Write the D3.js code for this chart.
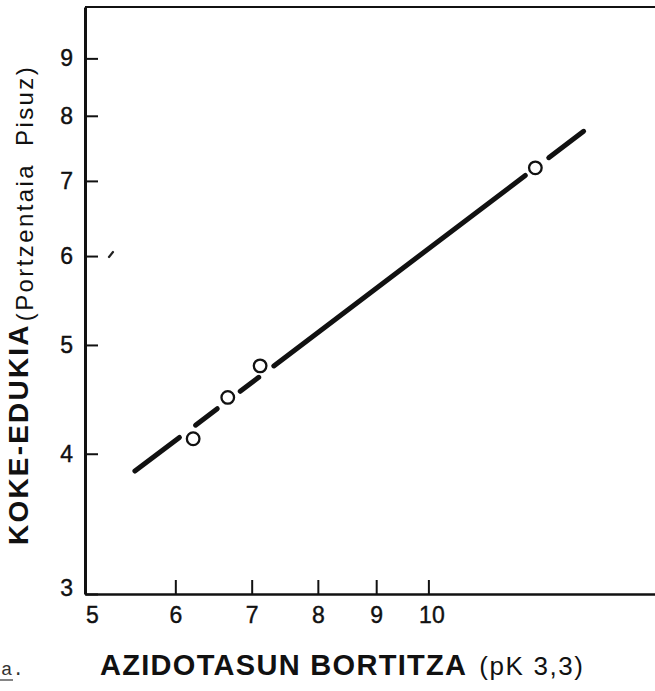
<!DOCTYPE html>
<html>
<head>
<meta charset="utf-8">
<script src="https://cdn.jsdelivr.net/npm/d3@7"></script>
<style>
	body { margin: 0; background: #fff; }
	svg { display: block; }
</style>
</head>
<body>
<div id="chart"></div>
<script>
// acidity strength (x) vs. coke content in weight percent (y), log-log
const xTicks = [5, 6, 7, 8, 9, 10];
const yTicks = [3, 4, 5, 6, 7, 8, 9];

const pointX = [6.22, 6.67, 7.12, 12.41];
const pointY = [4.125, 4.49, 4.79, 7.19];

// fitted line end points
const fitX = [5.53, 13.68];
const fitY = [3.86, 7.75];
// drawn pieces of the fit line (broken around the circles)
const fitPieces = [[5.53, 6.05], [6.25, 6.53], [6.84, 7.10], [7.32, 12.16], [12.75, 13.68]];

(() => {
	const width = 655;
	const height = 691;

	const svg = d3.select('#chart').append('svg')
		.attr('width', width)
		.attr('height', height);

	const x = d3.scaleLog()
		.domain([5, 15.8])
		.range([85, 655]);
	const y = d3.scaleLog()
		.domain([3, 10])
		.range([594, 7]);

	// y on the straight fit line (straight in log-log space)
	const fitAt = (v) => {
		const t = (Math.log10(v) - Math.log10(fitX[0])) / (Math.log10(fitX[1]) - Math.log10(fitX[0]));
		return Math.pow(10, Math.log10(fitY[0]) + t * (Math.log10(fitY[1]) - Math.log10(fitY[0])));
	};

	// axes
	const xAxis = d3.axisBottom(x)
		.tickValues(xTicks)
		.tickFormat(d3.format('d'))
		.tickSize(-14)
		.tickSizeOuter(0)
		.tickPadding(13);
	const yAxis = d3.axisLeft(y)
		.tickValues(yTicks)
		.tickFormat(d3.format('d'))
		.tickSize(-13)
		.tickSizeOuter(0)
		.tickPadding(12);

	const gx = svg.append('g')
		.attr('class', 'x axis')
		.attr('transform', `translate(0, ${y.range()[0]})`)
		.call(xAxis);
	const gy = svg.append('g')
		.attr('class', 'y axis')
		.attr('transform', `translate(${x.range()[0]}, 0)`)
		.call(yAxis);

	svg.selectAll('.axis')
		.attr('font-family', "'Liberation Sans', Arial, sans-serif")
		.attr('font-size', 23);
	svg.selectAll('.tick text')
		.attr('fill', '#111')
		.attr('stroke', '#111')
		.attr('stroke-width', 0.4);

	gx.select('.domain').attr('stroke', '#111').attr('stroke-width', 2.4);
	gy.select('.domain').attr('stroke', '#111').attr('stroke-width', 3);
	svg.selectAll('.tick line').attr('stroke', '#111').attr('stroke-width', 2);
	gx.selectAll('.tick text').filter(d => d === 5).attr('dx', 7);
	gx.selectAll('.tick text').filter(d => d === 10).attr('dx', 3);
	gy.selectAll('.tick text').filter(d => d === 3).attr('dy', '0.05em');

	// top border
	svg.append('line')
		.attr('x1', x.range()[0])
		.attr('x2', x.range()[1])
		.attr('y1', y.range()[1])
		.attr('y2', y.range()[1])
		.attr('stroke', '#111')
		.attr('stroke-width', 2.2);

	// fit line pieces
	svg.selectAll('.fit')
		.data(fitPieces)
		.enter().append('line')
			.attr('class', 'fit')
			.attr('x1', d => x(d[0]))
			.attr('y1', d => y(fitAt(d[0])))
			.attr('x2', d => x(d[1]))
			.attr('y2', d => y(fitAt(d[1])))
			.attr('stroke', '#111')
			.attr('stroke-width', 5)
			.attr('stroke-linecap', 'round');

	// data points
	svg.selectAll('.pt')
		.data(pointX.map((v, i) => ({ x: v, y: pointY[i] })))
		.enter().append('circle')
			.attr('class', 'pt')
			.attr('cx', d => x(d.x))
			.attr('cy', d => y(d.y))
			.attr('r', 6.3)
			.attr('fill', '#fff')
			.attr('stroke', '#111')
			.attr('stroke-width', 2.3);

	// small stray mark left in the original scan
	svg.append('line')
		.attr('x1', 109).attr('y1', 257)
		.attr('x2', 113).attr('y2', 252)
		.attr('stroke', '#222')
		.attr('stroke-width', 2.2)
		.attr('stroke-linecap', 'round');

	// x axis title
	const xt = svg.append('text')
		.attr('x', 100)
		.attr('y', 675)
		.style('font-family', "'Liberation Sans', Arial, sans-serif")
		.style('fill', '#111');
	xt.append('tspan')
		.style('font-weight', 'bold')
		.style('font-size', '29px')
		.style('letter-spacing', '1.3px')
		.text('AZIDOTASUN BORTITZA');
	xt.append('tspan')
		.attr('dx', 12)
		.style('font-size', '26px')
		.style('letter-spacing', '1.6px')
		.text('(pK 3,3)');

	// y axis title
	const yt = svg.append('text')
		.attr('transform', 'translate(28, 545) rotate(-90)')
		.style('font-family', "'Liberation Sans', Arial, sans-serif")
		.style('fill', '#111');
	yt.append('tspan')
		.style('font-weight', 'bold')
		.style('font-size', '28px')
		.style('letter-spacing', '2.2px')
		.text('KOKE-EDUKIA');
	yt.append('tspan')
		.attr('dx', 2)
		.attr('dy', 5)
		.style('font-size', '24px')
		.style('letter-spacing', '2.4px')
		.style('word-spacing', '8px')
		.text('(Portzentaia Pisuz)');

	// panel mark
	svg.append('text')
		.attr('x', 1)
		.attr('y', 675)
		.style('font-family', "'Liberation Mono', monospace")
		.style('font-size', '19px')
		.style('fill', '#333')
		.text('a.');
	svg.append('line')
		.attr('x1', 0).attr('x2', 13)
		.attr('y1', 680).attr('y2', 680)
		.attr('stroke', '#333')
		.attr('stroke-width', 1.2);
})();
</script>
</body>
</html>
